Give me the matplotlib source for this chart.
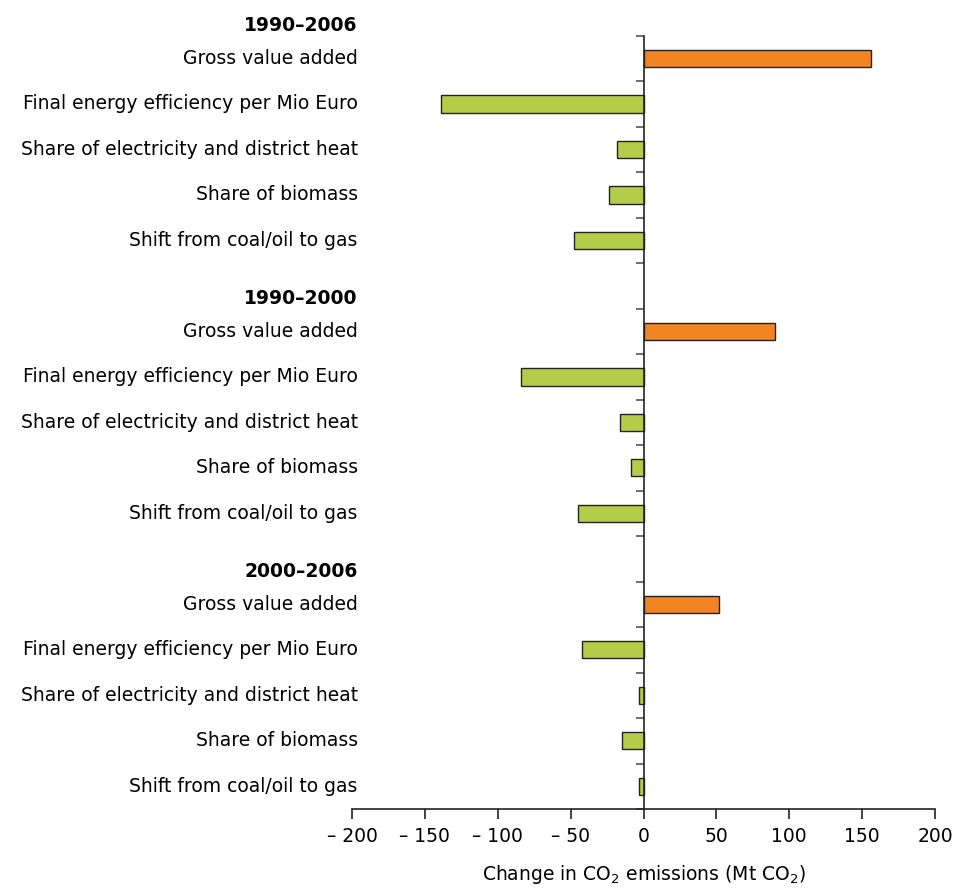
import numpy as np
import matplotlib.pyplot as plt

# periods and factors
periods = ["1990\u20132006", "1990\u20132000", "2000\u20132006"]
factors = ["Gross value added",
           "Final energy efficiency per Mio Euro",
           "Share of electricity and district heat",
           "Share of biomass",
           "Shift from coal/oil to gas"]
# change in CO2 emissions (Mt CO2), one list per period
v_1990_2006 = [156, -139, -18, -24, -47.5]
v_1990_2000 = [90, -84, -16, -8.5, -45]
v_2000_2006 = [52, -42, -3, -14.5, -3]
values = [v_1990_2006, v_1990_2000, v_2000_2006]

xticks = [-200, -150, -100, -50, 0, 50, 100, 150, 200]
xticklabels = ["\u2013 200", "\u2013 150", "\u2013 100", "\u2013 50", "0", "50", "100", "150", "200"]

orange = "#F28522"
green = "#B5CC48"

fig = plt.figure(figsize=(9.57, 8.89), dpi=100)
ax = fig.add_axes([352 / 957, 80 / 889, (935 - 352) / 957, (853.3 - 80) / 889])

fs = 13.5
row = 0
for p, period in enumerate(periods):
    # header sits in its own (empty) row, first one above the axes
    hdr_row = row - 1
    ax.text(-196, hdr_row + 0.28, period, ha="right", va="center",
            fontsize=fs, fontweight="bold", clip_on=False)
    for f, name in enumerate(factors):
        val = values[p][f]
        col = orange if f == 0 else green
        ax.barh(row, val, height=0.38, color=col, edgecolor="#222222", linewidth=1.0, zorder=3)
        ax.text(-196, row, name, ha="right", va="center", fontsize=fs, clip_on=False)
        row += 1
    row += 1  # empty row for next header

nrows = row - 1
ax.set_ylim(nrows - 0.5, -0.5)
ax.set_xlim(-200, 200)

# y axis drawn at zero with ticks between rows
ax.spines["left"].set_position(("data", 0))
ax.spines["top"].set_visible(False)
ax.spines["right"].set_visible(False)
for s in ["left", "bottom"]:
    ax.spines[s].set_color("#222222")
    ax.spines[s].set_linewidth(1.2)
    ax.spines[s].set_zorder(4)
ax.set_yticks(np.arange(nrows + 1) - 0.5)
ax.set_yticklabels([])
ax.tick_params(axis="y", direction="out", length=6, width=1.2, color="#555555")

ax.set_xticks(xticks)
ax.set_xticklabels(xticklabels, fontsize=fs)
ax.tick_params(axis="x", direction="out", length=7, width=1.2, color="#222222", pad=6)
ax.set_xlabel("Change in CO$_2$ emissions (Mt CO$_2$)", fontsize=fs, labelpad=12)

fig.savefig("out.png", dpi=100)
